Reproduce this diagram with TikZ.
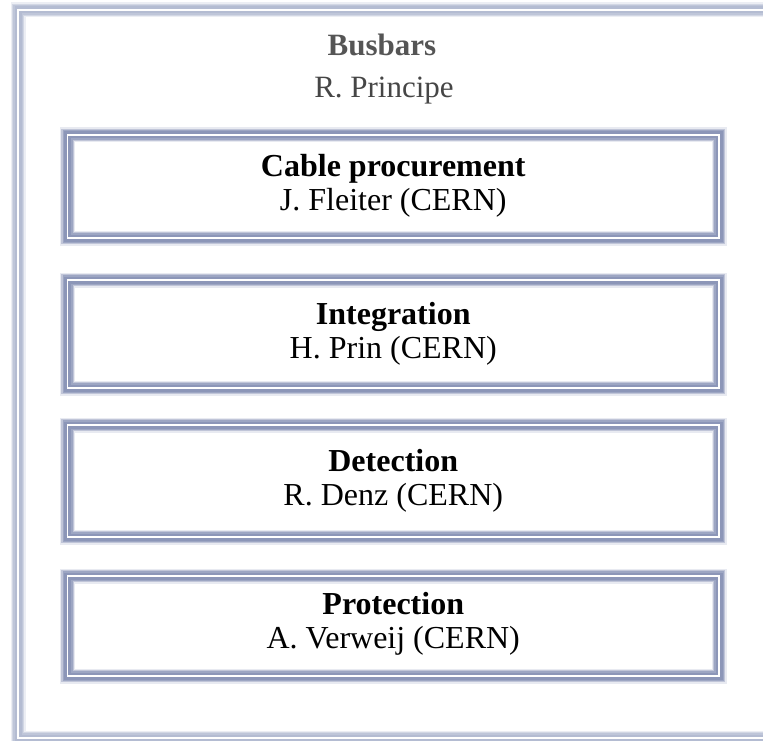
\documentclass[tikz,border=0pt]{standalone}
\usepackage{fontspec}
\setmainfont{Liberation Serif}
\definecolor{bandc}{RGB}{140,150,184}
\definecolor{framec}{RGB}{180,188,210}
\definecolor{hdrc}{RGB}{85,85,85}
\definecolor{subc}{RGB}{70,70,70}
\tikzset{
  fancybox/.style={rectangle, inner sep=0pt, minimum width=651.5pt,
    preaction={draw=bandc!20, line width=15pt},
    preaction={draw=bandc!55, line width=12.5pt},
    preaction={draw=bandc!85, line width=10pt},
    preaction={draw=bandc, line width=7pt},
    postaction={draw=white, line width=1.2pt}},
  outerframe/.style={rectangle, inner sep=0pt,
    preaction={draw=framec!25, line width=15pt},
    preaction={draw=framec!60, line width=12.5pt},
    preaction={draw=framec!85, line width=10pt},
    preaction={draw=framec, line width=7pt},
    postaction={draw=white, line width=1.2pt}},
  ttl/.style={font=\fontsize{32}{34}\selectfont\bfseries, anchor=base, inner sep=0pt},
  who/.style={font=\fontsize{32}{34}\selectfont, anchor=base, inner sep=0pt},
}
\begin{document}
\begin{tikzpicture}[x=1pt,y=-1pt]
\clip (0,0) rectangle (763,741);
\fill[white] (0,0) rectangle (763,741);
\node[outerframe, minimum width=760pt, minimum height=728pt] (frame) at (398,374) {};
\node[ttl, text=hdrc, font=\fontsize{31}{33}\selectfont\bfseries] (head) at (382,56) {Busbars};
\node[who, text=subc, font=\fontsize{31}{33}\selectfont] (lead) at (384,98) {R. Principe};

\node[fancybox, minimum height=103pt] (b1) at (393.25,186.5) {};
\node[fancybox, minimum height=108pt] (b2) at (393.25,334) {};
\node[fancybox, minimum height=112pt] (b3) at (393.25,481) {};
\node[fancybox, minimum height=100pt] (b4) at (393.25,626) {};

\node[ttl] (t1) at (393.25,176) {Cable procurement};
\node[who] (n1) at (393.25,210.5) {J. Fleiter (CERN)};
\node[ttl] (t2) at (393.25,324) {Integration};
\node[who] (n2) at (393.25,358.5) {H. Prin (CERN)};
\node[ttl] (t3) at (393.25,471) {Detection};
\node[who] (n3) at (393.25,505.5) {R. Denz (CERN)};
\node[ttl] (t4) at (393.25,614) {Protection};
\node[who] (n4) at (393.25,648.5) {A. Verweij (CERN)};
\end{tikzpicture}
\end{document}
